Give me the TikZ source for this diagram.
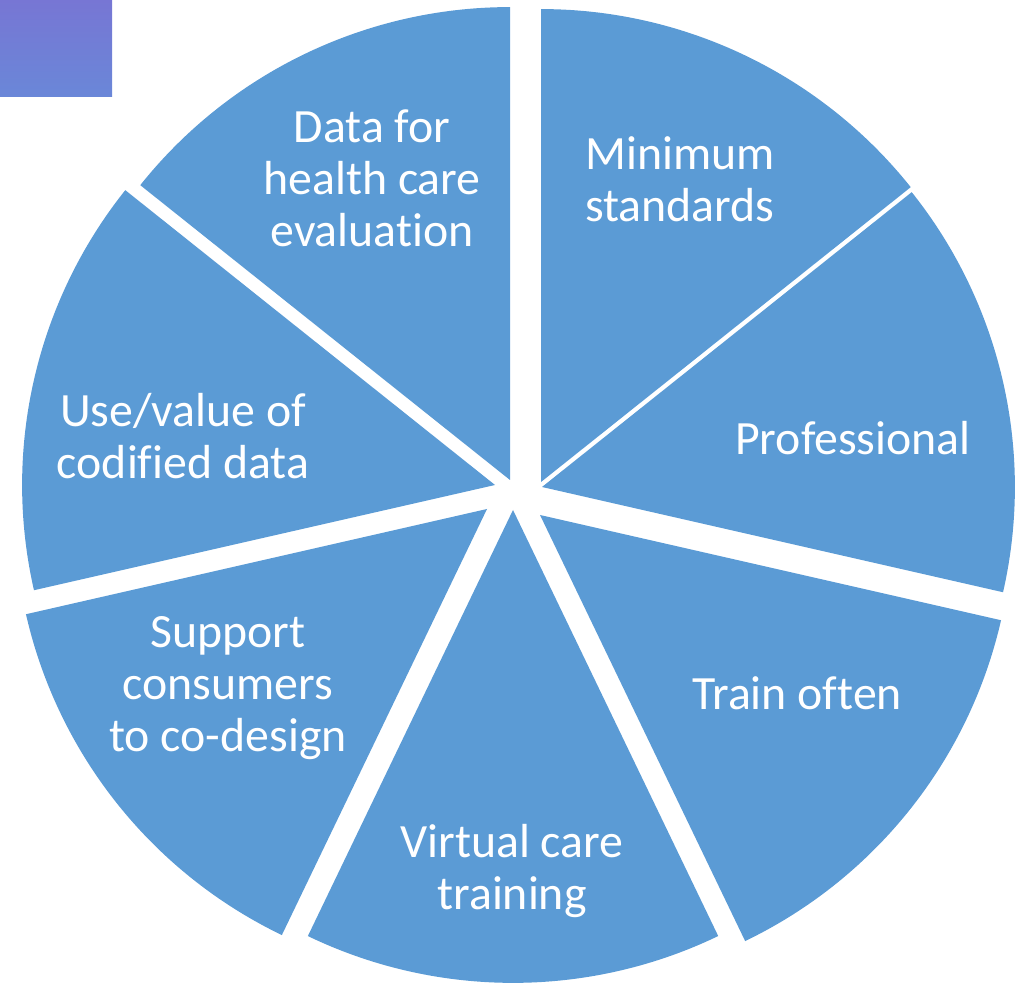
\documentclass[tikz,border=0pt]{standalone}
\usepackage{fontspec}
\setmainfont{Carlito}[Ligatures=NoCommon]
\usepackage{tikz}
\definecolor{pieblue}{HTML}{5B9BD5}
\definecolor{tagbottom}{HTML}{6A87D8}
\definecolor{tagtop}{HTML}{7776D4}

\begin{document}
\begin{tikzpicture}[x=0.02cm, y=0.02cm]
    \tikzstyle{Slice}=[fill=pieblue]
    \tikzstyle{SliceLabel}=[text=white, align=center,
        font=\fontsize{27.2}{29.6}\selectfont]
    \useasboundingbox (0,0) rectangle (1028,983);
    \shade[top color=tagtop, bottom color=tagbottom]
        (0,886) rectangle (112,983);
    % apex x / apex y / start angle
    \foreach \px/\py/\a in {541/501/38.57, 542/496/-12.86, 540/468/-64.29,
                            513/473/-115.71, 487/474/-167.14,
                            495/498/141.43, 510/503/90}
        \fill[Slice] (\px,\py) -- ++(\a:9.46cm)
            arc[start angle=\a, delta angle=51.43, radius=9.46cm] -- cycle;
    \node[SliceLabel] (minimum)  at (680,804) {Minimum\\standards};
    \node[SliceLabel] (profess)  at (853,545) {Professional};
    \node[SliceLabel] (train)    at (797,290) {Train often};
    \node[SliceLabel] (virtual)  at (512,112) {Virtual care\\training};
    \node[SliceLabel] (support)  at (228,295) {Support\\consumers\\to co-design};
    \node[SliceLabel] (usevalue) at (183,547) {Use/value of\\codified data};
    \node[SliceLabel] (datafor)  at (372,805) {Data for\\health care\\evaluation};
\end{tikzpicture}
\end{document}
